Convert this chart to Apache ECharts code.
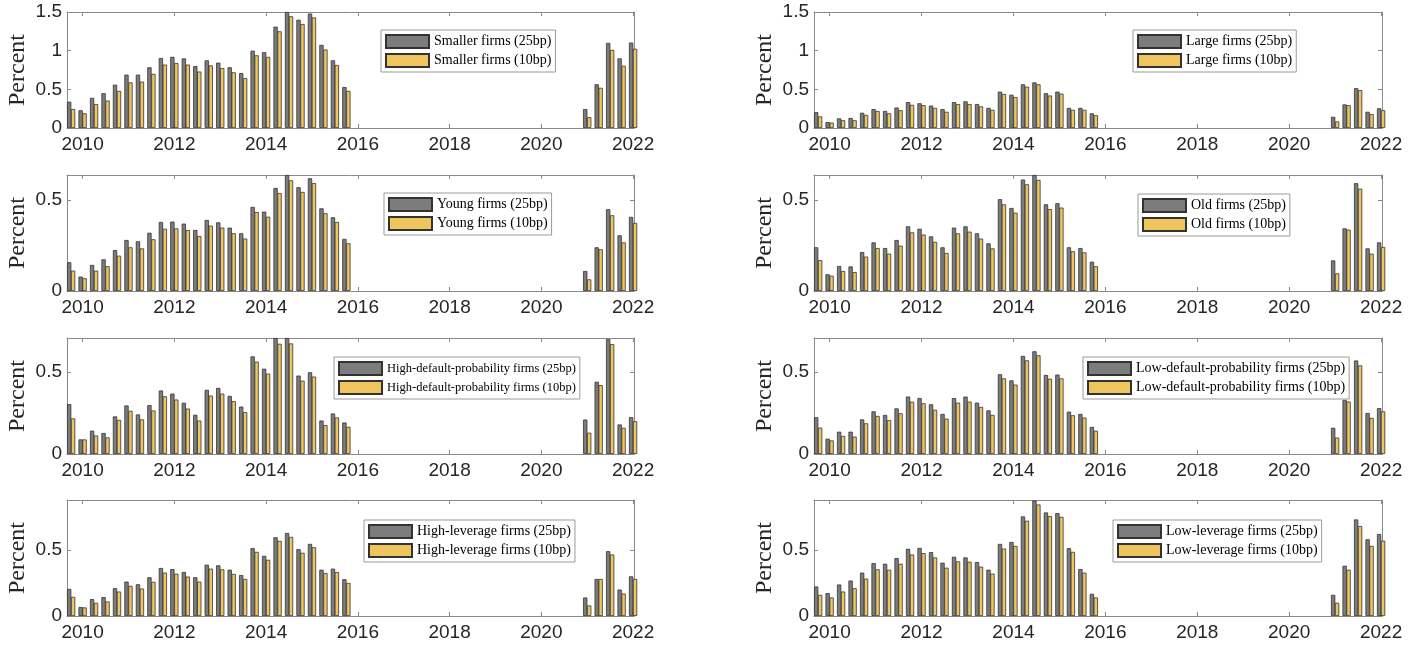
<!DOCTYPE html>
<html>
<head>
<meta charset="utf-8">
<script src="https://cdn.jsdelivr.net/npm/echarts@6/dist/echarts.min.js"></script>
<style>
html,body{margin:0;padding:0;background:#fff;}
#chart{width:1419px;height:650px;}
</style>
</head>
<body>
<div id="chart"></div>
<script>
// Quarterly dates (decimal years)
const dates = [2009.75, 2010.0, 2010.25, 2010.5, 2010.75, 2011.0, 2011.25, 2011.5, 2011.75,
  2012.0, 2012.25, 2012.5, 2012.75, 2013.0, 2013.25, 2013.5, 2013.75,
  2014.0, 2014.25, 2014.5, 2014.75, 2015.0, 2015.25, 2015.5, 2015.75,
  2021.0, 2021.25, 2021.5, 2021.75, 2022.0];

const xTickValues = [2010, 2012, 2014, 2016, 2018, 2020, 2022];

const smaller25 = [0.34,0.23,0.39,0.45,0.56,0.69,0.69,0.785,0.905,0.92,0.90,0.80,0.875,0.845,0.785,0.71,1.00,0.98,1.31,1.50,1.40,1.48,1.075,0.875,0.53, 0.245,0.565,1.10,0.90,1.105];
const smaller10 = [0.245,0.19,0.31,0.355,0.48,0.59,0.60,0.70,0.82,0.84,0.82,0.73,0.81,0.775,0.72,0.645,0.94,0.92,1.25,1.445,1.345,1.43,1.015,0.815,0.48, 0.14,0.52,1.01,0.805,1.025];

const large25 = [0.205,0.077,0.125,0.13,0.197,0.245,0.22,0.265,0.335,0.32,0.29,0.245,0.335,0.345,0.31,0.26,0.47,0.43,0.565,0.59,0.45,0.47,0.26,0.26,0.19, 0.145,0.305,0.515,0.21,0.255];
const large10 = [0.15,0.07,0.10,0.10,0.17,0.22,0.19,0.23,0.30,0.295,0.26,0.21,0.31,0.31,0.28,0.235,0.44,0.40,0.535,0.565,0.42,0.445,0.235,0.235,0.165, 0.085,0.295,0.49,0.18,0.23];

const young25 = [0.158,0.079,0.143,0.174,0.225,0.28,0.273,0.32,0.379,0.381,0.37,0.335,0.39,0.377,0.348,0.317,0.462,0.436,0.566,0.637,0.57,0.619,0.454,0.405,0.286, 0.11,0.24,0.449,0.306,0.407];
const young10 = [0.112,0.07,0.112,0.136,0.194,0.24,0.234,0.284,0.342,0.344,0.335,0.302,0.359,0.348,0.317,0.288,0.434,0.408,0.538,0.608,0.544,0.593,0.427,0.379,0.262, 0.064,0.229,0.416,0.267,0.374];

const old25 = [0.24,0.092,0.137,0.135,0.214,0.267,0.236,0.28,0.355,0.342,0.30,0.24,0.348,0.355,0.317,0.262,0.504,0.456,0.612,0.637,0.476,0.482,0.24,0.236,0.161, 0.168,0.344,0.592,0.234,0.267];
const old10 = [0.17,0.084,0.11,0.104,0.189,0.236,0.205,0.249,0.322,0.31,0.27,0.209,0.317,0.326,0.288,0.234,0.476,0.43,0.586,0.61,0.45,0.458,0.218,0.212,0.136, 0.097,0.337,0.562,0.205,0.242];

const highDP25 = [0.304,0.089,0.142,0.128,0.229,0.296,0.241,0.298,0.387,0.368,0.312,0.239,0.391,0.403,0.354,0.289,0.595,0.52,0.707,0.707,0.478,0.498,0.204,0.247,0.192, 0.21,0.44,0.70,0.18,0.225];
const highDP10 = [0.217,0.089,0.113,0.101,0.208,0.263,0.211,0.265,0.352,0.332,0.277,0.204,0.356,0.368,0.322,0.255,0.563,0.49,0.672,0.674,0.447,0.472,0.176,0.223,0.166, 0.13,0.42,0.67,0.16,0.20];

const lowDP25 = [0.224,0.093,0.136,0.136,0.211,0.26,0.238,0.278,0.35,0.341,0.303,0.244,0.341,0.35,0.313,0.266,0.486,0.449,0.598,0.626,0.482,0.484,0.258,0.244,0.165, 0.16,0.33,0.57,0.25,0.28];
const lowDP10 = [0.161,0.083,0.11,0.106,0.187,0.232,0.207,0.248,0.319,0.309,0.27,0.215,0.313,0.319,0.287,0.238,0.461,0.423,0.571,0.602,0.459,0.461,0.236,0.222,0.142, 0.10,0.32,0.54,0.22,0.26];

const highLev25 = [0.205,0.068,0.128,0.143,0.21,0.26,0.24,0.293,0.363,0.355,0.333,0.293,0.388,0.383,0.35,0.31,0.513,0.455,0.595,0.628,0.505,0.545,0.35,0.358,0.278, 0.14,0.28,0.49,0.20,0.30];
const highLev10 = [0.145,0.065,0.10,0.11,0.185,0.228,0.208,0.258,0.328,0.32,0.298,0.26,0.358,0.353,0.318,0.28,0.485,0.425,0.568,0.598,0.478,0.52,0.325,0.333,0.25, 0.08,0.28,0.465,0.17,0.28];

const lowLev25 = [0.223,0.173,0.238,0.268,0.328,0.40,0.395,0.438,0.508,0.515,0.483,0.403,0.448,0.443,0.408,0.35,0.545,0.56,0.753,0.873,0.783,0.778,0.513,0.355,0.168, 0.16,0.38,0.73,0.58,0.62];
const lowLev10 = [0.16,0.14,0.185,0.21,0.283,0.353,0.35,0.395,0.465,0.475,0.443,0.365,0.413,0.41,0.373,0.32,0.51,0.53,0.72,0.843,0.755,0.75,0.485,0.328,0.14, 0.10,0.35,0.68,0.53,0.57];

const panelNames = [
  ['Smaller firms (25bp)', 'Smaller firms (10bp)'],
  ['Large firms (25bp)', 'Large firms (10bp)'],
  ['Young firms (25bp)', 'Young firms (10bp)'],
  ['Old firms (25bp)', 'Old firms (10bp)'],
  ['High-default-probability firms (25bp)', 'High-default-probability firms (10bp)'],
  ['Low-default-probability firms (25bp)', 'Low-default-probability firms (10bp)'],
  ['High-leverage firms (25bp)', 'High-leverage firms (10bp)'],
  ['Low-leverage firms (25bp)', 'Low-leverage firms (10bp)']
];
const panelData = [
  [smaller25, smaller10], [large25, large10],
  [young25, young10], [old25, old10],
  [highDP25, highDP10], [lowDP25, lowDP10],
  [highLev25, highLev10], [lowLev25, lowLev10]
];
const rowYMax = [1.5, 0.637, 0.707, 0.877];
const rowYTicks = [[0, 0.5, 1, 1.5], [0, 0.5], [0, 0.5], [0, 0.5]];

// layout
const colLeft = [67, 814];
const colWidth = [567, 568];
const rowTop = [12, 175, 338, 500];
const plotH = 116;
const legendPos = [
  [381, 30], [1133, 30],
  [384, 193], [1138, 194],
  [334, 357], [1083, 357],
  [364, 520], [1113, 520]
];
const legendFont = [14, 14, 14, 14, 12.5, 14, 14, 14];

const axisColor = '#8a8a8a';
const labelColor = '#262626';
const grayFill = '#7c7c7c';
const yellowFill = '#EFC55E';

const grids = [], xAxes = [], yAxes = [], series = [], legends = [];
for (let p = 0; p < 8; p++) {
  const row = Math.floor(p / 2), col = p % 2;
  grids.push({left: colLeft[col], top: rowTop[row], width: colWidth[col], height: plotH, containLabel: false});
  const xBase = {
    type: 'value', gridIndex: p, min: 2009.66, max: 2022.02,
    splitLine: {show: false},
    axisLine: {show: true, onZero: false, lineStyle: {color: axisColor, width: 1}},
    axisTick: {show: true, inside: true, length: 4, customValues: xTickValues, lineStyle: {color: axisColor}}
  };
  xAxes.push(Object.assign({}, xBase, {
    position: 'bottom',
    axisLabel: {show: true, customValues: xTickValues, color: labelColor, fontSize: 19, fontFamily: 'Liberation Sans, Arial, sans-serif', margin: 7, formatter: v => String(v)}
  }));
  xAxes.push(Object.assign({}, xBase, {position: 'top', axisLabel: {show: false}}));
  const yBase = {
    type: 'value', gridIndex: p, min: 0, max: rowYMax[row],
    splitLine: {show: false},
    axisLine: {show: true, onZero: false, lineStyle: {color: axisColor, width: 1}},
    axisTick: {show: true, inside: true, length: 4, customValues: rowYTicks[row], lineStyle: {color: axisColor}}
  };
  yAxes.push(Object.assign({}, yBase, {
    position: 'left',
    name: 'Percent', nameLocation: 'middle', nameRotate: 90, nameGap: 37,
    nameTextStyle: {fontFamily: 'Liberation Serif, Times New Roman, serif', fontSize: 24, color: labelColor},
    axisLabel: {show: true, customValues: rowYTicks[row], color: labelColor, fontSize: 19, fontFamily: 'Liberation Sans, Arial, sans-serif', margin: 5, formatter: v => String(v)}
  }));
  yAxes.push(Object.assign({}, yBase, {position: 'right', axisLabel: {show: false}}));

  const [n25, n10] = panelNames[p];
  const [d25, d10] = panelData[p];
  series.push({
    type: 'bar', name: n25, xAxisIndex: 2 * p, yAxisIndex: 2 * p,
    data: dates.map((d, i) => [d, d25[i]]),
    barWidth: 4.3, barGap: '-8%', clip: true,
    itemStyle: {color: grayFill, borderColor: '#333', borderWidth: 0.8},
    emphasis: {disabled: true}, animation: false
  });
  series.push({
    type: 'bar', name: n10, xAxisIndex: 2 * p, yAxisIndex: 2 * p,
    data: dates.map((d, i) => [d, d10[i]]),
    barWidth: 4.3, barGap: '-8%', clip: true,
    itemStyle: {color: yellowFill, borderColor: '#333', borderWidth: 0.8},
    emphasis: {disabled: true}, animation: false
  });
  legends.push({
    data: [n25, n10], left: legendPos[p][0], top: legendPos[p][1], orient: 'vertical',
    itemWidth: 43, itemHeight: 13, itemGap: 4, padding: [4, 4, 4, 4],
    backgroundColor: '#fff', borderColor: '#9a9a9a', borderWidth: 1,
    selectedMode: false,
    textStyle: {fontFamily: 'Liberation Serif, Times New Roman, serif', fontSize: legendFont[p], color: '#000'},
    icon: 'rect'
  });
}

const chart = echarts.init(document.getElementById('chart'), null, {renderer: 'canvas'});
chart.setOption({
  animation: false,
  backgroundColor: '#fff',
  grid: grids, xAxis: xAxes, yAxis: yAxes, series: series, legend: legends
});
</script>
</body>
</html>
